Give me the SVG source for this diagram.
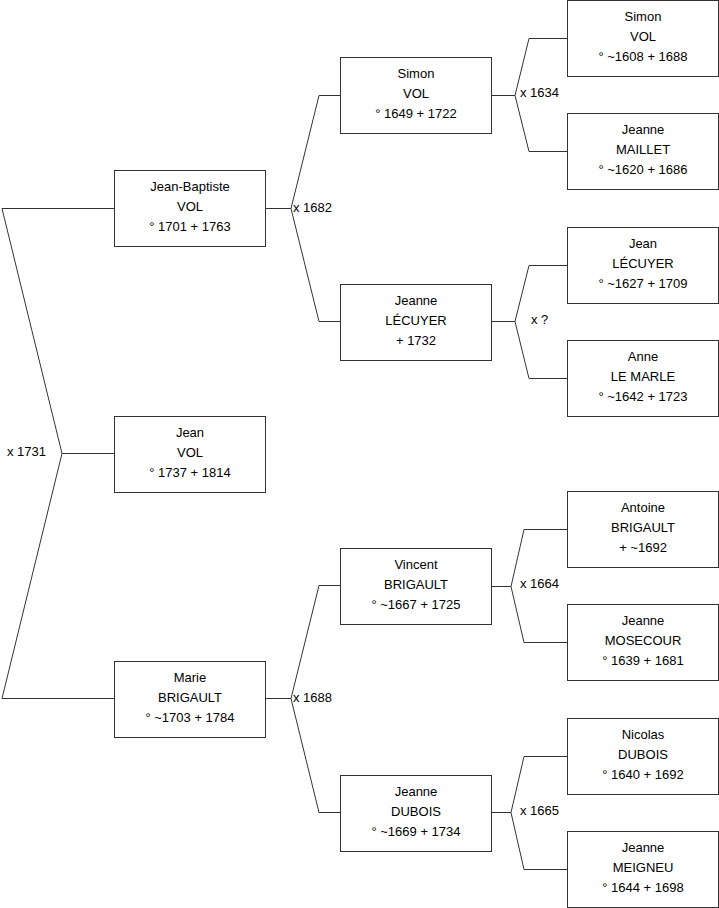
<svg xmlns="http://www.w3.org/2000/svg" width="719" height="908" viewBox="0 0 719 908">
<style>
.box{fill:#fff;stroke:#333;stroke-width:1}
.t{font-family:"Liberation Sans",Arial,sans-serif;font-size:13px;fill:#000;text-anchor:middle}
.l{font-family:"Liberation Sans",Arial,sans-serif;font-size:13px;fill:#000}
.c{fill:none;stroke:#333;stroke-width:1}
</style>
<rect width="719" height="908" fill="#fff"/>
<g id="connectors">
<polyline class="c" points="114,208.5 2,208.5 62,453.5 114,453.5"/>
<polyline class="c" points="62,453.5 2,698.5 114,698.5"/>
<polyline class="c" points="265,208.5 291,208.5 319,95.5 340,95.5"/>
<polyline class="c" points="291,208.5 319,321.5 340,321.5"/>
<polyline class="c" points="265,698.5 291,698.5 319,585.5 340,585.5"/>
<polyline class="c" points="291,698.5 319,812.5 340,812.5"/>
<polyline class="c" points="491,95.5 515,95.5 529,38.5 567,38.5"/>
<polyline class="c" points="515,95.5 529,151.5 567,151.5"/>
<polyline class="c" points="491,321.5 515,321.5 529,265.5 567,265.5"/>
<polyline class="c" points="515,321.5 529,378.5 567,378.5"/>
<polyline class="c" points="491,586.5 511,586.5 524,529.5 567,529.5"/>
<polyline class="c" points="511,586.5 524,642.5 567,642.5"/>
<polyline class="c" points="491,812.5 511,812.5 524,756.5 567,756.5"/>
<polyline class="c" points="511,812.5 524,869.5 567,869.5"/>
<text class="l" x="7" y="456">x 1731</text>
<text class="l" x="293" y="212">x 1682</text>
<text class="l" x="293" y="702">x 1688</text>
<text class="l" x="520" y="97">x 1634</text>
<text class="l" x="531" y="324">x ?</text>
<text class="l" x="520" y="588">x 1664</text>
<text class="l" x="520" y="815">x 1665</text>
</g>
<g id="n-jean-vol"><rect class="box" x="114.5" y="416.5" width="151" height="76"/>
<text class="t" x="190" y="437">Jean</text><text class="t" x="190" y="457">VOL</text><text class="t" x="190" y="477">° 1737 + 1814</text></g>
<g id="n-jean-baptiste"><rect class="box" x="114.5" y="170.5" width="151" height="76"/>
<text class="t" x="190" y="191">Jean-Baptiste</text><text class="t" x="190" y="211">VOL</text><text class="t" x="190" y="231">° 1701 + 1763</text></g>
<g id="n-marie"><rect class="box" x="114.5" y="661.5" width="151" height="76"/>
<text class="t" x="190" y="682">Marie</text><text class="t" x="190" y="702">BRIGAULT</text><text class="t" x="190" y="722">° ~1703 + 1784</text></g>
<g id="n-simon1"><rect class="box" x="340.5" y="57.5" width="151" height="76"/>
<text class="t" x="416" y="78">Simon</text><text class="t" x="416" y="98">VOL</text><text class="t" x="416" y="118">° 1649 + 1722</text></g>
<g id="n-jeanne-lecuyer"><rect class="box" x="340.5" y="284.5" width="151" height="76"/>
<text class="t" x="416" y="305">Jeanne</text><text class="t" x="416" y="325">LÉCUYER</text><text class="t" x="416" y="345">+ 1732</text></g>
<g id="n-vincent"><rect class="box" x="340.5" y="548.5" width="151" height="76"/>
<text class="t" x="416" y="569">Vincent</text><text class="t" x="416" y="589">BRIGAULT</text><text class="t" x="416" y="609">° ~1667 + 1725</text></g>
<g id="n-jeanne-dubois"><rect class="box" x="340.5" y="775.5" width="151" height="76"/>
<text class="t" x="416" y="796">Jeanne</text><text class="t" x="416" y="816">DUBOIS</text><text class="t" x="416" y="836">° ~1669 + 1734</text></g>
<g id="n-simon2"><rect class="box" x="567.5" y="0.5" width="151" height="76"/>
<text class="t" x="643" y="21">Simon</text><text class="t" x="643" y="41">VOL</text><text class="t" x="643" y="61">° ~1608 + 1688</text></g>
<g id="n-jeanne-maillet"><rect class="box" x="567.5" y="113.5" width="151" height="76"/>
<text class="t" x="643" y="134">Jeanne</text><text class="t" x="643" y="154">MAILLET</text><text class="t" x="643" y="174">° ~1620 + 1686</text></g>
<g id="n-jean-lecuyer"><rect class="box" x="567.5" y="227.5" width="151" height="76"/>
<text class="t" x="643" y="248">Jean</text><text class="t" x="643" y="268">LÉCUYER</text><text class="t" x="643" y="288">° ~1627 + 1709</text></g>
<g id="n-anne"><rect class="box" x="567.5" y="340.5" width="151" height="76"/>
<text class="t" x="643" y="361">Anne</text><text class="t" x="643" y="381">LE MARLE</text><text class="t" x="643" y="401">° ~1642 + 1723</text></g>
<g id="n-antoine"><rect class="box" x="567.5" y="491.5" width="151" height="76"/>
<text class="t" x="643" y="512">Antoine</text><text class="t" x="643" y="532">BRIGAULT</text><text class="t" x="643" y="552">+ ~1692</text></g>
<g id="n-jeanne-mosecour"><rect class="box" x="567.5" y="604.5" width="151" height="76"/>
<text class="t" x="643" y="625">Jeanne</text><text class="t" x="643" y="645">MOSECOUR</text><text class="t" x="643" y="665">° 1639 + 1681</text></g>
<g id="n-nicolas"><rect class="box" x="567.5" y="718.5" width="151" height="76"/>
<text class="t" x="643" y="739">Nicolas</text><text class="t" x="643" y="759">DUBOIS</text><text class="t" x="643" y="779">° 1640 + 1692</text></g>
<g id="n-jeanne-meigneu"><rect class="box" x="567.5" y="831.5" width="151" height="76"/>
<text class="t" x="643" y="852">Jeanne</text><text class="t" x="643" y="872">MEIGNEU</text><text class="t" x="643" y="892">° 1644 + 1698</text></g>
</svg>
